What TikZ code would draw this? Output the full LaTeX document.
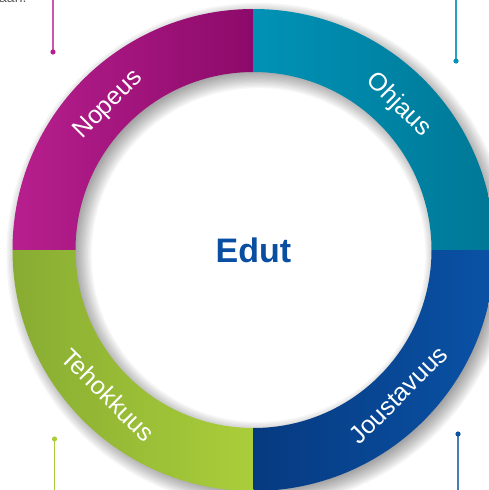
\documentclass[tikz,border=0pt]{standalone}
\usepackage{fontspec}
\setmainfont{Liberation Sans}
\usetikzlibrary{calc}
\definecolor{magL}{RGB}{183,31,142}
\definecolor{magR}{RGB}{140,10,106}
\definecolor{teaL}{RGB}{0,146,182}
\definecolor{teaR}{RGB}{0,120,150}
\definecolor{greL}{RGB}{136,172,50}
\definecolor{greR}{RGB}{170,206,58}
\definecolor{bluL}{RGB}{6,58,128}
\definecolor{bluR}{RGB}{10,82,166}
\definecolor{eduBlue}{RGB}{10,78,162}
\definecolor{txtGray}{RGB}{90,90,90}
\tikzset{
  lab/.style={text=white,font=\fontsize{25}{25}\selectfont,inner sep=0pt},
  pinline/.style={line width=1.4pt},
  pindot/.style={radius=2.6}
}
\begin{document}
\begin{tikzpicture}[x=1pt,y=1pt]
\useasboundingbox (0,0) rectangle (489,-490);
\clip (0,0) rectangle (489,-490);
\coordinate (c) at (253.5,-250);
\def\Ro{241}\def\Ri{178}
% top-left clipped text
\node[anchor=base west,text=txtGray,font=\fontsize{14}{14}\selectfont,inner sep=0pt] (tl) at (-1,-2.6) {aan.};
% pins
\coordinate (p1a) at (53,0);   \coordinate (p1b) at (53,-52);
\coordinate (p2a) at (456,0);  \coordinate (p2b) at (456,-61);
\coordinate (p3a) at (54.5,-490); \coordinate (p3b) at (54.5,-439);
\coordinate (p4a) at (458,-490);  \coordinate (p4b) at (458,-434);
\draw[pinline,color=magL!75!white] (p1a) -- (p1b);
\fill[magL] (p1b) circle[pindot];
\draw[pinline,color=teaL!85!white] (p2a) -- (p2b);
\fill[teaL] (p2b) circle[pindot];
\draw[pinline,color=greR] (p3a) -- (p3b);
\fill[greR] (p3b) circle[pindot];
\draw[pinline,color=bluR!75!white] (p4a) -- (p4b);
\fill[bluR] (p4b) circle[pindot];
% soft shadow
\foreach \k in {1,...,14}{
  \fill[black,opacity=0.032,even odd rule] ($(c)+(5,-5)$) circle ({\Ro-7+\k*1.3}) circle ({\Ri+7-\k*1.3});
}
% quadrants
\shade[left color=magL,right color=magR] ($(c)+(90:\Ro)$) arc[start angle=90,end angle=180,radius=\Ro] -- ($(c)+(180:\Ri)$) arc[start angle=180,end angle=90,radius=\Ri] -- cycle;
\shade[left color=teaL,right color=teaR] ($(c)+(0:\Ro)$) arc[start angle=0,end angle=90,radius=\Ro] -- ($(c)+(90:\Ri)$) arc[start angle=90,end angle=0,radius=\Ri] -- cycle;
\shade[left color=greL,right color=greR] ($(c)+(180:\Ro)$) arc[start angle=180,end angle=270,radius=\Ro] -- ($(c)+(270:\Ri)$) arc[start angle=270,end angle=180,radius=\Ri] -- cycle;
\shade[left color=bluL,right color=bluR] ($(c)+(270:\Ro)$) arc[start angle=270,end angle=360,radius=\Ro] -- ($(c)+(0:\Ri)$) arc[start angle=0,end angle=-90,radius=\Ri] -- cycle;
% labels
\node[lab,rotate=45] (nop) at ($(c)+(135:205)$) {Nopeus};
\node[lab,rotate=-45] (ohj) at ($(c)+(45:205)$) {Ohjaus};
\node[lab,rotate=-45] (teh) at ($(c)+(225:205)$) {Tehokkuus};
\node[lab,rotate=45] (jou) at ($(c)+(315:205)$) {Joustavuus};
\node[text=eduBlue,font=\bfseries\fontsize{34}{34}\selectfont,inner sep=0pt] (edut) at (c) {Edut};
\end{tikzpicture}
\end{document}
